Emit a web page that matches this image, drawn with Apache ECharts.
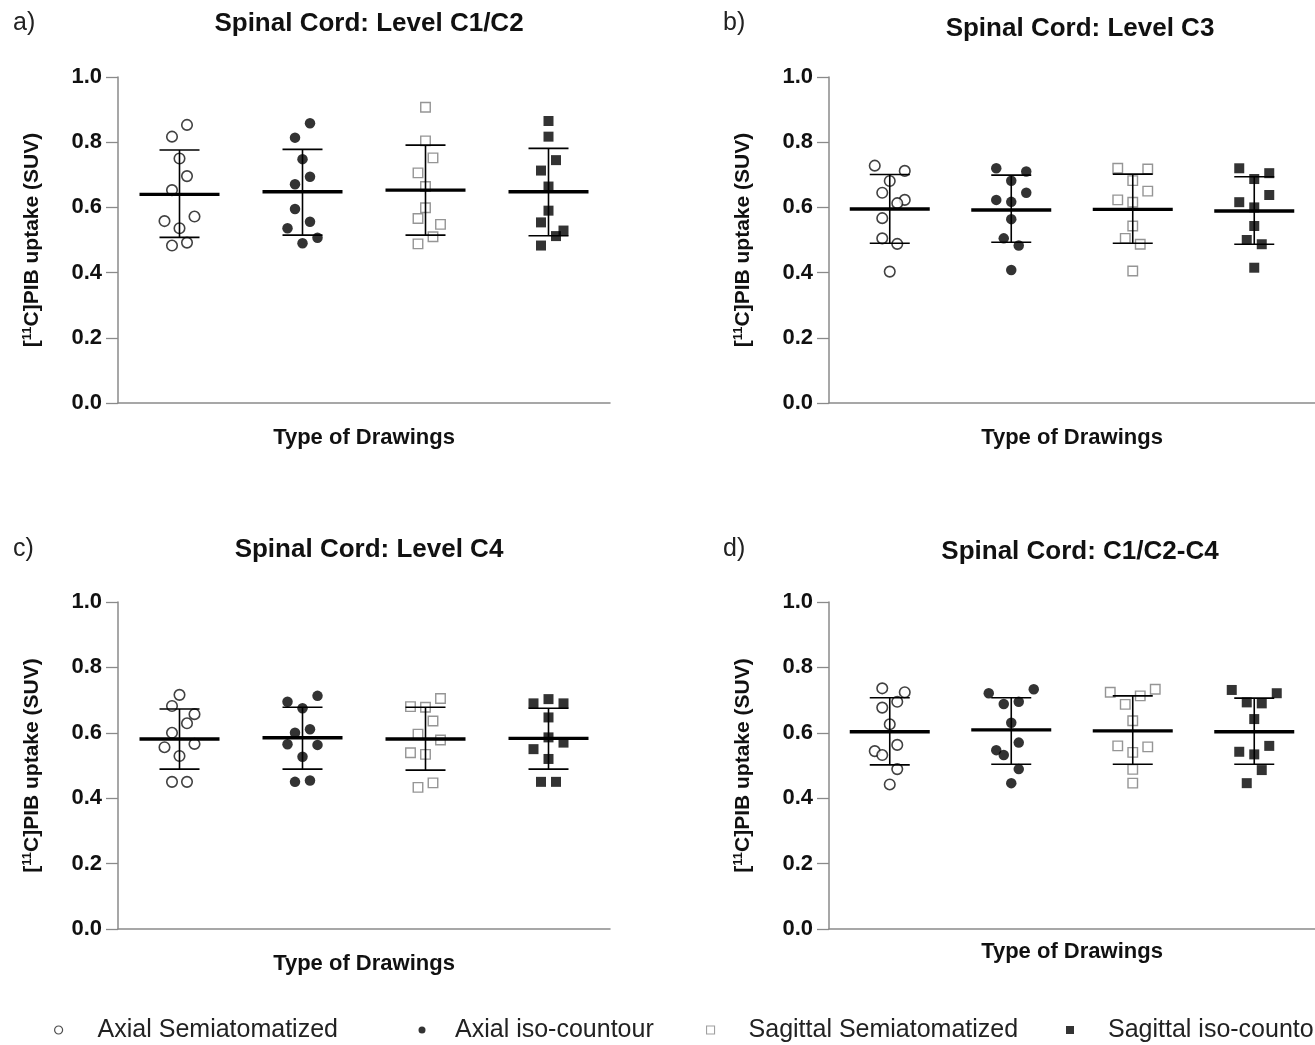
<!DOCTYPE html>
<html>
<head>
<meta charset="utf-8">
<script src="https://cdn.jsdelivr.net/npm/echarts@6/dist/echarts.min.js"></script>
<style>
html,body{margin:0;padding:0;background:#fff;}
#chart{width:1315px;height:1045px;}
</style>
</head>
<body>
<div id="chart"></div>
<script>
// ---------- data ----------
const categories = ['Axial Semiatomatized', 'Axial iso-countour', 'Sagittal Semiatomatized', 'Sagittal iso-countour'];
const panelTitles = ['Spinal Cord: Level C1/C2', 'Spinal Cord: Level C3', 'Spinal Cord: Level C4', 'Spinal Cord: C1/C2-C4'];
const panelLabels = ['a)', 'b)', 'c)', 'd)'];
const yTickValues = [0.0, 0.2, 0.4, 0.6, 0.8, 1.0];
const yAxisTitle = '[{sup|11}C]PIB uptake (SUV)';
const xAxisTitle = 'Type of Drawings';

// Panel a: Level C1/C2
const c12AxialSemi = [0.853, 0.817, 0.750, 0.696, 0.653, 0.572, 0.558, 0.536, 0.492, 0.483];
const c12AxialIso = [0.858, 0.814, 0.748, 0.694, 0.671, 0.595, 0.556, 0.536, 0.507, 0.490];
const c12SagSemi = [0.907, 0.804, 0.752, 0.706, 0.664, 0.599, 0.566, 0.548, 0.510, 0.488];
const c12SagIso = [0.865, 0.817, 0.745, 0.713, 0.664, 0.590, 0.554, 0.529, 0.512, 0.483];
const c12Mean = [0.640, 0.648, 0.653, 0.648];
const c12Upper = [0.776, 0.778, 0.791, 0.781];
const c12Lower = [0.508, 0.515, 0.515, 0.513];

// Panel b: Level C3
const c3AxialSemi = [0.728, 0.712, 0.681, 0.645, 0.623, 0.613, 0.567, 0.505, 0.488, 0.403];
const c3AxialIso = [0.720, 0.710, 0.682, 0.645, 0.623, 0.617, 0.564, 0.505, 0.483, 0.408];
const c3SagSemi = [0.720, 0.718, 0.682, 0.650, 0.623, 0.616, 0.543, 0.505, 0.487, 0.405];
const c3SagIso = [0.720, 0.705, 0.687, 0.638, 0.616, 0.600, 0.543, 0.500, 0.487, 0.415];
const c3Mean = [0.595, 0.592, 0.594, 0.589];
const c3Upper = [0.701, 0.699, 0.702, 0.694];
const c3Lower = [0.490, 0.493, 0.490, 0.487];

// Panel c: Level C4
const c4AxialSemi = [0.716, 0.682, 0.657, 0.629, 0.600, 0.566, 0.556, 0.529, 0.450, 0.450];
const c4AxialIso = [0.713, 0.695, 0.675, 0.611, 0.600, 0.565, 0.563, 0.527, 0.450, 0.454];
const c4SagSemi = [0.705, 0.680, 0.678, 0.636, 0.596, 0.578, 0.539, 0.534, 0.447, 0.433];
const c4SagIso = [0.703, 0.690, 0.690, 0.647, 0.586, 0.570, 0.550, 0.520, 0.450, 0.450];
const c4Mean = [0.581, 0.585, 0.581, 0.583];
const c4Upper = [0.673, 0.678, 0.678, 0.675];
const c4Lower = [0.489, 0.489, 0.486, 0.489];

// Panel d: C1/C2-C4
const allAxialSemi = [0.736, 0.724, 0.695, 0.677, 0.626, 0.563, 0.544, 0.532, 0.489, 0.442];
const allAxialIso = [0.733, 0.721, 0.695, 0.688, 0.631, 0.570, 0.547, 0.532, 0.489, 0.446];
const allSagSemi = [0.733, 0.724, 0.713, 0.687, 0.637, 0.560, 0.557, 0.540, 0.488, 0.446];
const allSagIso = [0.731, 0.721, 0.693, 0.690, 0.642, 0.560, 0.542, 0.534, 0.486, 0.446];
const allMean = [0.603, 0.609, 0.606, 0.603];
const allUpper = [0.707, 0.707, 0.713, 0.706];
const allLower = [0.502, 0.504, 0.504, 0.504];

// horizontal jitter slots of each point (scatter-dot-plot spreading)
const jitter = [
  [[1,-1,0,1,-1,2,-2,0,1,-1], [1,-1,0,1,-1,-1,1,-2,2,0], [0,0,1,-1,0,0,-1,2,1,-1], [0,0,1,-1,0,0,-1,2,1,-1]],
  [[-2,2,0,-1,2,1,-1,-1,1,0], [-2,2,0,2,-2,0,0,-1,1,0], [-2,2,0,2,-2,0,0,-1,1,0], [-2,2,0,2,-2,0,0,-1,1,0]],
  [[0,-1,2,1,-1,2,-2,0,-1,1], [2,-2,0,1,-1,-2,2,0,-1,1], [2,-2,0,1,-1,2,-2,0,1,-1], [0,-2,2,0,0,2,-2,0,-1,1]],
  [[-1,2,1,-1,0,1,-2,-1,1,0], [3,-3,1,-1,0,1,-2,-1,1,0], [3,-3,1,-1,0,-2,2,0,0,0], [-3,3,-1,1,0,2,-2,0,1,-1]]
];

const panels = [
  {groups: [c12AxialSemi, c12AxialIso, c12SagSemi, c12SagIso], mean: c12Mean, upper: c12Upper, lower: c12Lower},
  {groups: [c3AxialSemi, c3AxialIso, c3SagSemi, c3SagIso], mean: c3Mean, upper: c3Upper, lower: c3Lower},
  {groups: [c4AxialSemi, c4AxialIso, c4SagSemi, c4SagIso], mean: c4Mean, upper: c4Upper, lower: c4Lower},
  {groups: [allAxialSemi, allAxialIso, allSagSemi, allSagIso], mean: allMean, upper: allUpper, lower: allLower}
];

// ---------- layout & style ----------
const FONT = '"Liberation Sans", Arial, sans-serif';
const gridBoxes = [
  {left: 118, top: 77, width: 492, height: 326},
  {left: 829, top: 77, width: 492, height: 326},
  {left: 118, top: 602, width: 492, height: 327},
  {left: 829, top: 602, width: 492, height: 327}
];
const titlePos = [{x: 364, y: 6}, {x: 1075, y: 11}, {x: 364, y: 532}, {x: 1075, y: 534}];
const labelPos = [{x: 12, y: 6}, {x: 722, y: 6}, {x: 12, y: 532}, {x: 722, y: 532}];
const xNameGap = [24, 24, 24, 12];
const jitterStep = 7.5;
const axisColor = '#8a8a8a';

const markerStyles = [
  {symbol: 'circle', size: 10.5, itemStyle: {color: '#fff', borderColor: '#111', borderWidth: 1.6}},
  {symbol: 'circle', size: 10.5, itemStyle: {color: '#000', borderColor: '#000', borderWidth: 0}},
  {symbol: 'rect', size: 9.5, itemStyle: {color: '#fff', borderColor: '#7a7a7a', borderWidth: 1.4}},
  {symbol: 'rect', size: 10, itemStyle: {color: '#000', borderColor: '#000', borderWidth: 0}}
];

const grids = [], xAxes = [], yAxes = [], series = [], titles = [];

gridBoxes.forEach((g, p) => {
  grids.push(Object.assign({containLabel: false}, g));
  xAxes.push({
    type: 'category', gridIndex: p, data: categories, boundaryGap: true,
    axisLine: {lineStyle: {color: axisColor, width: 1.5}},
    axisTick: {alignWithLabel: true, length: 12, lineStyle: {color: axisColor, width: 1.3}},
    axisLabel: {show: false},
    name: xAxisTitle, nameLocation: 'middle', nameGap: xNameGap[p],
    nameTextStyle: {fontFamily: FONT, fontWeight: 'bold', fontSize: 22, color: '#111'}
  });
  yAxes.push({
    type: 'value', gridIndex: p, min: yTickValues[0], max: yTickValues[yTickValues.length - 1], interval: 0.2,
    axisLine: {show: true, lineStyle: {color: axisColor, width: 1.5}},
    axisTick: {show: true, length: 12, lineStyle: {color: axisColor, width: 1.3}},
    splitLine: {show: false},
    axisLabel: {margin: 16, fontFamily: FONT, fontWeight: 'bold', fontSize: 22, color: '#111',
      formatter: v => v.toFixed(1)},
    name: yAxisTitle, nameLocation: 'middle', nameRotate: 90, nameGap: 75,
    nameTextStyle: {fontFamily: FONT, fontWeight: 'bold', fontSize: 21, color: '#111',
      rich: {sup: {fontFamily: FONT, fontWeight: 'bold', fontSize: 13, color: '#111', verticalAlign: 'top', padding: [0, 0, 9, 0]}}}
  });

  const panel = panels[p];
  panel.groups.forEach((vals, c) => {
    const st = markerStyles[c];
    series.push({
      type: 'scatter', name: categories[c], xAxisIndex: p, yAxisIndex: p,
      symbol: st.symbol, symbolSize: st.size, itemStyle: st.itemStyle, z: 2, silent: true,
      data: vals.map((v, i) => ({value: [c, v], symbolOffset: [jitter[p][c][i] * jitterStep, 0]}))
    });
  });

  series.push({
    type: 'custom', name: 'mean_sd_' + p, xAxisIndex: p, yAxisIndex: p, z: 5, silent: true,
    encode: {x: 0, y: [1, 2, 3]},
    data: panel.mean.map((m, i) => [i, m, panel.upper[i], panel.lower[i]]),
    renderItem: (params, api) => {
      const x = api.value(0);
      const pm = api.coord([x, api.value(1)]);
      const pu = api.coord([x, api.value(2)]);
      const pl = api.coord([x, api.value(3)]);
      const thin = {stroke: '#000', lineWidth: 1.6};
      return {type: 'group', children: [
        {type: 'line', shape: {x1: pu[0], y1: pu[1], x2: pl[0], y2: pl[1]}, style: thin},
        {type: 'line', shape: {x1: pu[0] - 20, y1: pu[1], x2: pu[0] + 20, y2: pu[1]}, style: thin},
        {type: 'line', shape: {x1: pl[0] - 20, y1: pl[1], x2: pl[0] + 20, y2: pl[1]}, style: thin},
        {type: 'line', shape: {x1: pm[0] - 40, y1: pm[1], x2: pm[0] + 40, y2: pm[1]}, style: {stroke: '#000', lineWidth: 3.4}}
      ]};
    }
  });

  titles.push({
    text: panelTitles[p], left: titlePos[p].x, top: titlePos[p].y, textAlign: 'center',
    textStyle: {fontFamily: FONT, fontWeight: 'bold', fontSize: 26, color: '#111'}
  });
  titles.push({
    text: panelLabels[p], left: labelPos[p].x - 4, top: labelPos[p].y,
    textStyle: {fontFamily: FONT, fontWeight: 'normal', fontSize: 25, color: '#222'}
  });
});

// legends: one per marker type (symbol center x, icon size, text start x)
const legendPlace = [
  {cx: 58, w: 8, tx: 97}, {cx: 422, w: 7, tx: 455}, {cx: 710, w: 8, tx: 748}, {cx: 1070, w: 8, tx: 1108}
];
const legendIcons = ['circle', 'circle', 'rect', 'rect'];
const legendItemStyles = [
  {color: '#fff', borderColor: '#222', borderWidth: 1.2},
  {color: '#000', borderColor: '#000', borderWidth: 0},
  {color: '#fff', borderColor: '#888', borderWidth: 1.1},
  {color: '#000', borderColor: '#000', borderWidth: 0}
];
const legends = categories.map((name, i) => {
  const lp = legendPlace[i];
  return {
    left: lp.cx - lp.w / 2, top: 1014, orient: 'horizontal', selectedMode: false,
    itemWidth: lp.w, itemHeight: lp.w, padding: 0,
    data: [{name: name, icon: legendIcons[i], itemStyle: legendItemStyles[i]}],
    textStyle: {fontFamily: FONT, fontSize: 25, color: '#222', lineHeight: 32,
      padding: [0, 0, 0, lp.tx - lp.cx - lp.w / 2 - 5]}
  };
});

const chart = echarts.init(document.getElementById('chart'), null, {renderer: 'canvas'});
chart.setOption({
  backgroundColor: '#fff',
  animation: false,
  title: titles,
  legend: legends,
  grid: grids,
  xAxis: xAxes,
  yAxis: yAxes,
  series: series
});
</script>
</body>
</html>
